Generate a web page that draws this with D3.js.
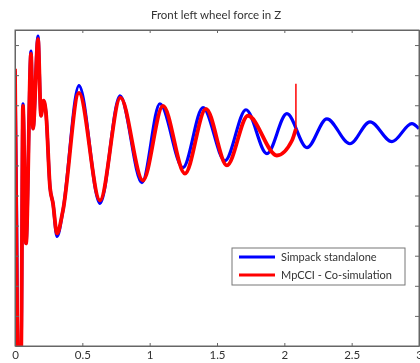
<!DOCTYPE html>
<head>
  <meta charset="utf-8">
  <script src="https://d3js.org/d3.v7.min.js"></script>
  <style>
    body {
      margin:0;position:fixed;top:0;right:0;bottom:0;left:0;
      background-color: white;
      font-family: Lato, "Open Sans", sans-serif;
    }
    .tick text {
      fill: #333;
    }
  </style>
</head>

<body>
  <script>
    // values (y in tick units, tick labels are cut off)
    var xTicks = [0, 0.5, 1, 1.5, 2, 2.5, 3];
    var xTickLabels = ["0", "0.5", "1", "1.5", "2", "2.5", "3"];
    var yTicks = [1, 2, 3, 4, 5, 6, 7, 8, 9, 10];

    var simpackTime = [0, 0.011, 0.022, 0.045, 0.059, 0.082, 0.119, 0.134, 0.171, 0.193, 0.212, 0.23,
      0.26, 0.282, 0.312, 0.356, 0.475, 0.631, 0.78, 0.943, 1.076, 1.247, 1.396, 1.559, 1.715,
      1.871, 2.019, 2.168, 2.316, 2.487, 2.636, 2.799, 2.947, 3.0];
    var simpackForce = [9.14, 4.84, -0.4, -0.4, 8.05, 3.41, 9.8, 7.22, 10.3, 7.65, 8.15, 7.75,
      5.27, 4.74, 3.64, 4.5, 8.65, 4.74, 8.31, 5.43, 8.05, 5.93, 7.92, 6.16, 7.85,
      6.39, 7.72, 6.59, 7.55, 6.72, 7.45, 6.79, 7.39, 7.22];

    var mpcciTime = [0, 0.008, 0.022, 0.045, 0.059, 0.082, 0.119, 0.134, 0.171, 0.193, 0.212, 0.23,
      0.26, 0.282, 0.312, 0.356, 0.475, 0.631, 0.783, 0.95, 1.099, 1.262, 1.418, 1.574, 1.73,
      1.945, 2.056, 2.086];
    var mpcciForce = [9.21, 4.84, -0.4, -0.4, 7.98, 3.41, 9.71, 7.22, 10.2, 7.65, 8.15, 7.75,
      5.27, 4.74, 3.74, 4.5, 8.41, 4.84, 8.25, 5.5, 7.98, 5.73, 7.88, 6.0, 7.65,
      6.33, 6.82, 7.22];
    var mpcciSpike = 8.71;

    var legendNames = ["Simpack standalone", "MpCCI - Co-simulation"];
    var legendColors = ["#0000ff", "#ff0000"];

    var plotLeft = 15, plotRight = 419, plotTop = 30, plotBottom = 346;

    var svg = d3.select("body").append("svg")
      .attr("width", 420)
      .attr("height", 363)

    var x = d3.scaleLinear()
      .domain([0, 3])
      .range([plotLeft, plotRight])

    var y = d3.scaleLinear()
      .domain([0, 10.5])
      .range([plotBottom, plotTop])

    svg.append("clipPath")
      .attr("id", "plotClip")
      .append("rect")
      .attr("x", plotLeft)
      .attr("y", plotTop)
      .attr("width", plotRight - plotLeft)
      .attr("height", plotBottom - plotTop)

    svg.append("text")
      .attr("x", 216)
      .attr("y", 19)
      .attr("text-anchor", "middle")
      .style("font-size", "11.5px")
      .style("fill", "#333")
      .text("Front left wheel force in Z")

    var line = d3.line()
      .x(function(d) {return x(d[0])})
      .y(function(d) {return y(d[1])})
      .curve(d3.curveMonotoneX)

    var simpack = simpackTime.map(function(t, i) {return [t, simpackForce[i]]});
    var mpcci = mpcciTime.map(function(t, i) {return [t, mpcciForce[i]]});
    var last = mpcci[mpcci.length - 1];

    var plot = svg.append("g")
      .attr("clip-path", "url(#plotClip)")

    plot.append("path")
      .datum(simpack)
      .attr("d", line)
      .style("fill", "none")
      .style("stroke", legendColors[0])
      .style("stroke-width", 3.2)
      .style("stroke-linejoin", "round")

    plot.append("path")
      .datum(mpcci)
      .attr("d", line)
      .style("fill", "none")
      .style("stroke", legendColors[1])
      .style("stroke-width", 3.8)
      .style("stroke-linejoin", "round")

    plot.append("path")
      .datum([last, [last[0], mpcciSpike]])
      .attr("d", d3.line().x(function(d) {return x(d[0])}).y(function(d) {return y(d[1])}))
      .style("fill", "none")
      .style("stroke", legendColors[1])
      .style("stroke-width", 1.5)

    var xAxis = d3.axisBottom(x).tickValues(xTicks)
      .tickFormat(function(d, i) {return xTickLabels[i]})
      .tickSizeInner(-3).tickSizeOuter(0).tickPadding(5);
    var xTop = d3.axisTop(x).tickValues(xTicks).tickFormat("")
      .tickSizeInner(-3).tickSizeOuter(0);
    var yLeft = d3.axisLeft(y).tickValues(yTicks).tickFormat("")
      .tickSizeInner(-4).tickSizeOuter(0);
    var yRight = d3.axisRight(y).tickValues(yTicks).tickFormat("")
      .tickSizeInner(-4).tickSizeOuter(0);

    svg.append("g")
      .attr("transform", "translate(0," + plotBottom + ")")
      .style("font-size", "11.5px")
      .style("font-family", "Lato, sans-serif")
      .call(xAxis)

    svg.append("g")
      .attr("transform", "translate(0," + plotTop + ")")
      .call(xTop)

    svg.append("g")
      .attr("transform", "translate(" + plotLeft + ",0)")
      .call(yLeft)

    svg.append("g")
      .attr("transform", "translate(" + plotRight + ",0)")
      .call(yRight)

    svg.selectAll(".domain, .tick line")
      .style("stroke", "#666")

    svg.append("rect")
      .attr("x", plotLeft)
      .attr("y", plotTop)
      .attr("width", plotRight - plotLeft)
      .attr("height", plotBottom - plotTop)
      .style("fill", "none")
      .style("stroke", "#666")
      .style("stroke-width", 1)

    var legend = svg.append("g")
      .attr("transform", "translate(232,248)")

    legend.append("rect")
      .attr("width", 173)
      .attr("height", 37)
      .style("fill", "white")
      .style("stroke", "#777")

    var item = legend.selectAll(".legendItem")
      .data(legendNames)
      .enter().append("g")
      .attr("class", "legendItem")
      .attr("transform", function(d, i) {return "translate(0," + (9 + i * 18) + ")"})

    item.append("line")
      .attr("x1", 7)
      .attr("x2", 43)
      .style("stroke", function(d, i) {return legendColors[i]})
      .style("stroke-width", 3)

    item.append("text")
      .attr("x", 49)
      .attr("y", 4)
      .style("font-size", "11px")
      .style("fill", "#333")
      .text(function(d) {return d})
  </script>
</body>
